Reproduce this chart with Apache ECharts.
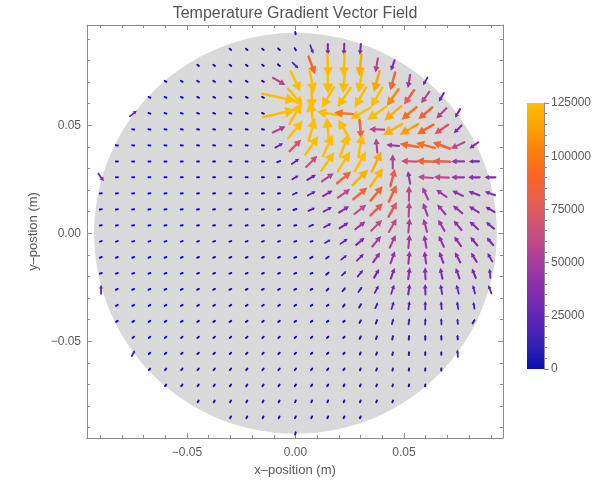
<!DOCTYPE html>
<html>
<head>
<meta charset="utf-8">
<script src="https://cdn.jsdelivr.net/npm/echarts@6.0.0/dist/echarts.min.js"></script>
<style>
html,body{margin:0;padding:0;background:#ffffff;}
#chart{width:616px;height:488px;}
</style>
</head>
<body>
<div id="chart"></div>
<script>
const _ = null;
// grid sample positions (m)
const xPositions = [-0.0896,-0.0822,-0.0747,-0.0672,-0.0598,-0.0523,-0.0448,-0.0374,-0.0299,-0.0224,-0.0149,-0.0075,0,0.0075,0.0149,0.0224,0.0299,0.0374,0.0448,0.0523,0.0598,0.0672,0.0747,0.0822,0.0896];
const yPositions = [0.0925,0.0851,0.0777,0.0703,0.0629,0.0555,0.0481,0.0407,0.0333,0.0259,0.0185,0.0111,0.0037,-0.0037,-0.0111,-0.0185,-0.0259,-0.0333,-0.0407,-0.0481,-0.0555,-0.0629,-0.0703,-0.0777,-0.0851,-0.0925];
// gradient magnitude (thousands) per row (top to bottom) and column (left to right)
const magnitudeK = [
[_,_,_,_,_,_,_,_,_,_,_,_,5,_,_,_,_,_,_,_,_,_,_,_,_],
[_,_,_,_,_,_,_,_,4,4,4,5,5,25,35,38,35,_,_,_,_,_,_,_,_],
[_,_,_,_,_,_,4,4,4,4,4,6,22,90,125,130,118,55,35,_,_,_,_,_,_],
[_,_,_,_,4,4,4,4,4,4,4,55,125,135,140,135,128,115,88,50,25,_,_,_,_],
[_,_,_,4,4,4,4,4,4,4,4,280,130,140,140,135,130,125,105,80,55,30,_,_,_],
[_,_,25,4,4,4,4,4,4,4,4,260,140,140,125,100,125,130,118,95,85,55,30,_,_],
[_,_,4,4,4,4,4,4,4,4,4,55,125,135,140,130,85,60,120,112,90,70,35,_,_],
[_,4,4,4,4,4,4,4,4,4,4,25,70,125,135,135,125,55,45,90,95,85,60,35,_],
[_,4,4,4,4,4,4,4,4,4,4,8,25,65,125,130,128,118,55,65,85,80,45,30,_],
[28,4,4,4,4,4,4,4,4,4,4,4,18,30,55,85,120,122,80,45,60,60,45,38,35],
[4,4,4,4,4,4,4,4,4,4,4,4,12,25,35,60,85,90,85,60,50,45,40,38,35],
[4,4,4,4,4,4,4,4,4,4,4,4,8,18,28,40,60,78,72,58,50,45,42,38,32],
[4,4,4,4,4,4,4,4,4,4,4,4,4,12,22,32,45,62,62,55,50,45,42,38,32],
[4,4,4,4,4,4,4,4,4,4,4,4,4,4,15,25,35,50,52,50,46,42,40,35,30],
[4,4,4,4,4,4,4,4,4,4,4,4,4,6,8,18,28,40,45,45,42,40,38,33,28],
[4,4,4,4,4,4,4,4,4,4,4,4,4,4,8,14,22,30,36,40,40,36,35,30,26],
[25,4,4,4,4,4,4,4,4,4,4,4,4,4,6,10,16,22,28,32,32,28,26,24,25],
[_,4,4,4,4,4,4,4,4,4,4,4,4,4,4,6,10,15,20,22,22,20,18,16,_],
[_,4,4,4,4,4,4,4,4,4,4,4,4,4,4,4,7,10,14,15,15,14,12,10,_],
[_,_,4,4,4,4,4,4,4,4,4,4,4,4,4,4,6,7,9,10,10,9,8,_,_],
[_,_,15,4,4,4,4,4,4,4,4,4,4,4,4,4,5,6,7,7,7,6,18,_,_],
[_,_,_,4,4,4,4,4,4,4,4,4,4,4,4,4,4,5,5,5,5,5,_,_,_],
[_,_,_,_,4,4,4,4,4,4,4,4,4,4,4,4,4,4,4,4,4,_,_,_,_],
[_,_,_,_,_,_,4,4,4,4,4,4,4,4,4,4,4,4,4,_,_,_,_,_,_],
[_,_,_,_,_,_,_,_,4,4,4,4,4,4,4,4,4,_,_,_,_,_,_,_,_],
[_,_,_,_,_,_,_,_,_,_,_,_,5,_,_,_,_,_,_,_,_,_,_,_,_]
];
// gradient direction (degrees, 0 = +x, 90 = +y)
const angleDeg = [
[_,_,_,_,_,_,_,_,_,_,_,_,-80,_,_,_,_,_,_,_,_,_,_,_,_],
[_,_,_,_,_,_,_,_,-40,-40,-40,-45,-60,-70,-90,-92,-95,_,_,_,_,_,_,_,_],
[_,_,_,_,_,_,-35,-35,-35,-35,-38,-40,-45,-70,-88,-92,-95,-100,-110,_,_,_,_,_,_],
[_,_,_,_,-30,-30,-30,-30,-30,-30,-30,-30,-65,-80,-90,-95,-100,-105,-105,-100,-120,_,_,_,_],
[_,_,_,-25,-25,-25,-25,-25,-25,-25,-25,-12,-50,-90,-120,-125,-120,-120,-125,-125,-125,-120,_,_,_],
[_,_,40,-20,-20,-20,-20,-20,-20,-20,-20,12,60,100,170,175,-150,-145,-140,-140,-140,-135,-120,_,_],
[_,_,-10,-10,-10,-10,-10,-10,-10,-10,-10,25,50,75,95,120,-85,178,-150,-150,-150,-145,-135,_,_],
[_,-5,-5,-5,-5,-5,-5,-5,-5,-5,-5,30,45,55,65,70,80,95,175,170,165,160,-155,-145,_],
[_,0,0,0,0,0,0,0,0,0,0,20,35,45,55,58,60,65,90,178,178,178,180,180,_],
[-55,0,0,0,0,0,0,0,0,0,0,0,30,30,35,40,45,55,75,100,175,178,180,180,180],
[5,5,5,5,5,5,5,5,5,5,5,5,25,28,30,35,40,50,65,90,115,145,155,160,160],
[8,8,8,8,8,8,8,8,8,8,8,8,20,25,28,32,38,45,60,88,110,130,140,148,150],
[10,10,10,10,10,10,10,10,10,10,10,10,10,25,28,32,38,45,60,85,105,120,130,138,140],
[15,15,15,15,15,15,15,15,15,15,15,15,15,15,30,35,40,50,65,85,100,115,125,130,130],
[20,20,20,20,20,20,20,20,20,20,20,20,20,30,35,40,45,55,70,85,98,110,118,122,120],
[20,20,20,20,20,20,20,20,20,20,20,20,20,20,40,45,50,60,70,82,92,102,110,112,95],
[90,25,25,25,25,25,25,25,25,25,25,25,25,25,45,50,55,62,72,82,92,100,105,105,110],
[_,30,30,30,30,30,30,30,30,30,30,30,30,30,30,55,60,65,72,82,90,95,100,100,_],
[_,35,35,35,35,35,35,35,35,35,35,35,35,35,35,35,62,68,75,82,88,92,95,60,_],
[_,_,40,40,40,40,40,40,40,40,40,40,40,40,40,40,65,70,78,85,90,92,95,_,_],
[_,_,60,45,45,45,45,45,45,45,45,45,45,45,45,45,68,72,78,85,88,90,95,_,_],
[_,_,_,50,50,50,50,50,50,50,50,50,50,50,50,50,70,72,78,82,85,88,_,_,_],
[_,_,_,_,55,55,55,55,55,55,55,55,55,55,55,65,68,72,75,78,80,_,_,_,_],
[_,_,_,_,_,_,60,60,60,60,60,60,70,70,70,70,70,70,70,_,_,_,_,_,_],
[_,_,_,_,_,_,_,_,65,65,65,65,65,65,65,65,65,_,_,_,_,_,_,_,_],
[_,_,_,_,_,_,_,_,_,_,_,_,75,_,_,_,_,_,_,_,_,_,_,_,_]
];
const axisMajorTicks = [-0.05, 0, 0.05];
const axisMinorTicks = [-0.09,-0.08,-0.07,-0.06,-0.04,-0.03,-0.02,-0.01,0.01,0.02,0.03,0.04,0.06,0.07,0.08,0.09];
const colorbarTicks = [0,25000,50000,75000,100000,125000];
const colorbarMinorTicks = [5000,10000,15000,20000,30000,35000,40000,45000,55000,60000,65000,70000,80000,85000,90000,95000,105000,110000,115000,120000];
const colorScale = ['#0c0cae','#3420b8','#5c24b8','#7e2bb0','#9c36a4','#b84490','#d25474','#ea5e4e','#fb6626','#ff7e0c','#ffa204','#ffbe00'];
const colorMax = 125000;
const diskRadius = 0.0928;

const FONT = "'Liberation Sans', Arial, sans-serif";
const X_MIN = -0.09608, X_MAX = 0.09562, Y_MIN = -0.09477, Y_MAX = 0.09644;
const FRAME = '#8c8c8c', TXT = '#5a5a5a';

const arrows = [];
magnitudeK.forEach((row, j) => row.forEach((m, i) => {
  if (m === null) return;
  const v = m * 1000;
  arrows.push([xPositions[i], yPositions[j], v, angleDeg[j][i], Math.min(v, colorMax)]);
}));

const fmtAxis = v => Math.abs(v) < 1e-9 ? '0.00' : (v < 0 ? '\u2212' : '') + Math.abs(v).toFixed(2);

function valueAxis(dim, pos, major, withLabel, extra) {
  const isX = dim === 'x';
  const a = {
    type: 'value', gridIndex: 0, position: pos,
    min: isX ? X_MIN : Y_MIN, max: isX ? X_MAX : Y_MAX,
    axisLine: {show: major, onZero: false, lineStyle: {color: FRAME, width: 1}},
    axisTick: {show: true, inside: true, length: major ? 5 : 3, customValues: major ? axisMajorTicks : axisMinorTicks, lineStyle: {color: FRAME}},
    axisLabel: {show: withLabel, customValues: axisMajorTicks, formatter: fmtAxis, color: TXT, fontSize: 12, fontFamily: FONT, margin: isX ? 9 : 6},
    splitLine: {show: false}
  };
  return Object.assign(a, extra || {});
}

function lengthPx(v) { return Math.max(2.2, 2.2 * Math.sqrt(v / 1000) - 2.0); }

function renderArrow(params, api) {
  const x = api.value(0), y = api.value(1), v = api.value(2);
  const a = api.value(3) * Math.PI / 180;
  const c = api.coord([x, y]);
  const L = lengthPx(v);
  const ux = Math.cos(a), uy = -Math.sin(a);
  const tail = [c[0] - ux * L / 2, c[1] - uy * L / 2];
  const tip = [c[0] + ux * L / 2, c[1] + uy * L / 2];
  const hl = Math.min(L * 0.42, 10.5), hw = Math.min(L * 0.22, 5.4);
  const base = [tip[0] - ux * hl, tip[1] - uy * hl];
  const nx = -uy, ny = ux;
  const color = api.visual('color');
  const lw = L > 16 ? 2.5 : (L > 10 ? 2.1 : (L > 5 ? 1.8 : 2.0));
  return {
    type: 'group',
    children: [
      {type: 'line', shape: {x1: tail[0], y1: tail[1], x2: base[0] + ux * 0.5, y2: base[1] + uy * 0.5}, style: {stroke: color, lineWidth: lw, lineCap: 'round'}},
      {type: 'polygon', shape: {points: [tip, [base[0] + nx * hw, base[1] + ny * hw], [base[0] - nx * hw, base[1] - ny * hw]]}, style: {fill: color}}
    ]
  };
}

function renderDisk(params, api) {
  const pts = [];
  for (let t = 0; t < 180; t++) {
    const th = t / 180 * Math.PI * 2;
    pts.push(api.coord([diskRadius * Math.cos(th), diskRadius * Math.sin(th)]));
  }
  return {type: 'polygon', shape: {points: pts}, style: {fill: '#d9d9d9'}, silent: true};
}

const chart = echarts.init(document.getElementById('chart'), null, {renderer: 'canvas'});
chart.setOption({
  animation: false,
  backgroundColor: '#ffffff',
  graphic: [{type: 'text', x: 295, y: 14, style: {text: 'Temperature Gradient Vector Field', textAlign: 'center', textVerticalAlign: 'middle', fontSize: 16, fontFamily: FONT, fill: '#555555'}}],
  grid: [
    {left: 87, top: 25, width: 416, height: 413},
    {left: 527, top: 103, width: 17, height: 266}
  ],
  xAxis: [
    valueAxis('x', 'bottom', true, true, {name: 'x\u2013position (m)', nameLocation: 'middle', nameGap: 25, nameTextStyle: {color: TXT, fontSize: 13, fontFamily: FONT}}),
    valueAxis('x', 'bottom', false, false),
    valueAxis('x', 'top', true, false),
    valueAxis('x', 'top', false, false),
    {type: 'category', gridIndex: 1, data: ['c'], show: false}
  ],
  yAxis: [
    valueAxis('y', 'left', true, true, {name: 'y\u2013postion (m)', nameLocation: 'middle', nameGap: 47, nameTextStyle: {color: TXT, fontSize: 13, fontFamily: FONT}}),
    valueAxis('y', 'left', false, false),
    valueAxis('y', 'right', true, false),
    valueAxis('y', 'right', false, false),
    {type: 'value', gridIndex: 1, position: 'right', min: 0, max: colorMax,
     axisLine: {show: true, lineStyle: {color: FRAME}},
     axisTick: {show: true, inside: false, length: 5, customValues: colorbarTicks, lineStyle: {color: FRAME}},
     axisLabel: {show: true, customValues: colorbarTicks, formatter: v => String(v), color: TXT, fontSize: 12, fontFamily: FONT, margin: 7},
     splitLine: {show: false}},
    {type: 'value', gridIndex: 1, position: 'right', min: 0, max: colorMax,
     axisLine: {show: false},
     axisTick: {show: true, inside: false, length: 3, customValues: colorbarMinorTicks, lineStyle: {color: FRAME}},
     axisLabel: {show: false}, splitLine: {show: false}}
  ],
  visualMap: {
    type: 'continuous', show: false, seriesIndex: 1, dimension: 4, min: 0, max: colorMax,
    inRange: {color: colorScale}
  },
  series: [
    {type: 'custom', xAxisIndex: 0, yAxisIndex: 0, data: [[0, 0]], renderItem: renderDisk, silent: true, z: 1},
    {type: 'custom', xAxisIndex: 0, yAxisIndex: 0, data: arrows, renderItem: renderArrow, z: 2, clip: false},
    {type: 'bar', xAxisIndex: 4, yAxisIndex: 4, data: [colorMax], barWidth: '100%', silent: true,
     itemStyle: {color: {type: 'linear', x: 0, y: 1, x2: 0, y2: 0, colorStops: colorScale.map((c, i) => ({offset: i / (colorScale.length - 1), color: c}))}}}
  ]
});
</script>
</body>
</html>
